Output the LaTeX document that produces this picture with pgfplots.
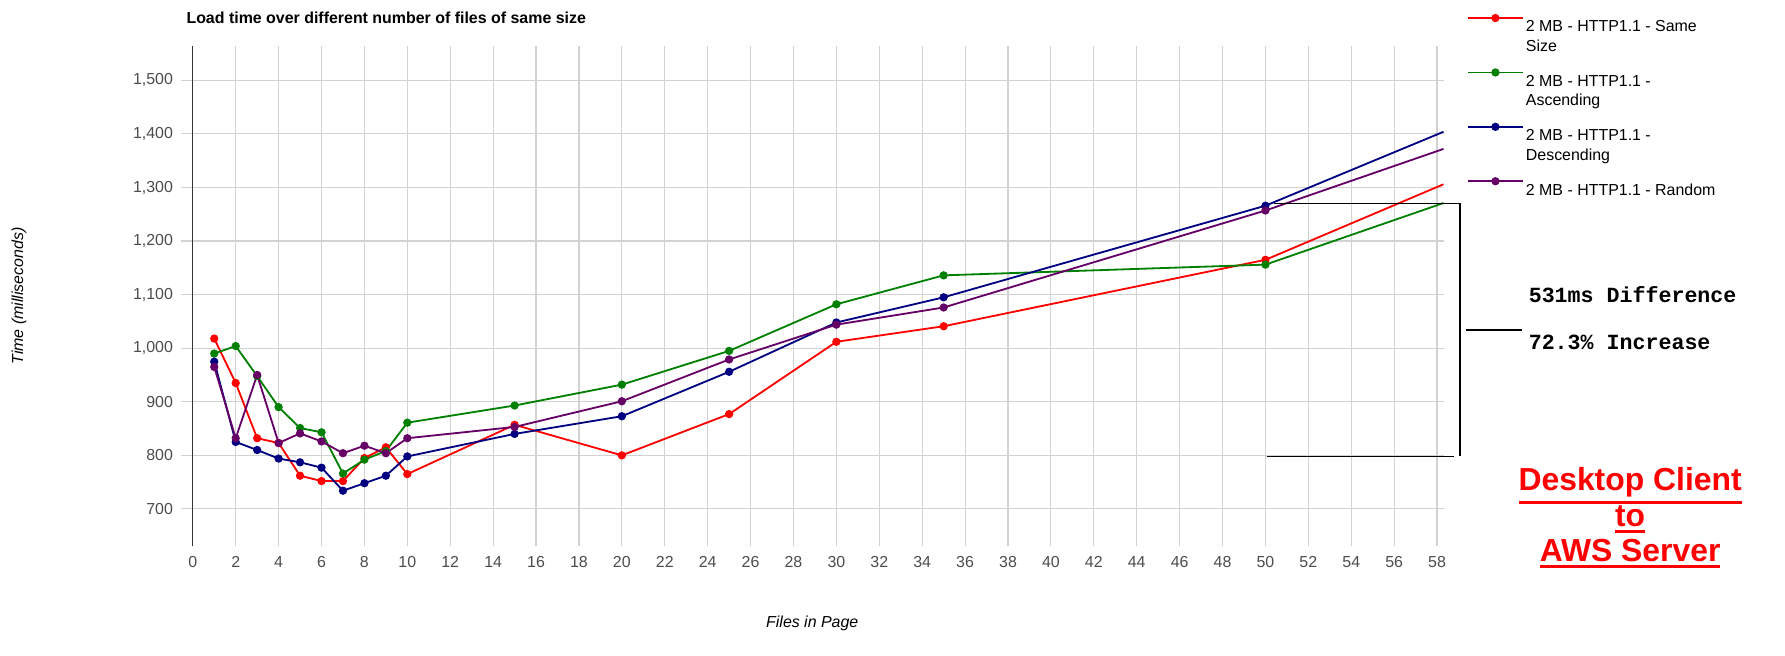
\documentclass[border=0pt]{standalone}
\usepackage{pgfplots}
\pgfplotsset{compat=1.18}
\usepackage{fontspec}
\setmainfont{Liberation Sans}
\newfontfamily\monofont{Liberation Mono}
\newcommand{\uline}[1]{\tikz[baseline=(t.base)]{\node[inner sep=0pt,outer sep=0pt](t){#1};\draw[red,line width=1.4pt]([yshift=-2.2pt]t.south west)--([yshift=-2.2pt]t.south east);}}
\begin{document}
\begin{tikzpicture}
\useasboundingbox (-79.5pt,-48pt) rectangle (704.5pt,240pt);
\begin{axis}[
  at={(0,0)}, anchor=south west,
  scale only axis, width=554.5pt, height=220pt,
  xmin=-0.55, xmax=58.3, ymin=630, ymax=1565,
  xtick={0,2,...,58}, ytick={700,800,...,1500},
  /pgf/number format/1000 sep={,},
  /pgf/number format/assume math mode=true,
  tick label style={font=\fontsize{7}{8}\selectfont, text=black!70},
  grid=major, grid style={gray!35, line width=0.5pt},
  axis line style={draw=none}, major tick length=0pt,
  xticklabel style={yshift=-1pt},
  xlabel={\itshape Files in Page}, xlabel style={font=\fontsize{7}{8}\selectfont, yshift=-14pt},
  ylabel={\itshape Time (milliseconds)}, ylabel style={font=\fontsize{7}{8}\selectfont, yshift=40pt},
  clip=false,
  every axis plot/.append style={line width=0.8pt, mark=*, mark size=1.4pt, mark indices={1,...,16}},
  legend image code/.code={\draw[#1, mark indices={}] (0pt,0pt) -- (24pt,0pt); \fill[#1] (12pt,0pt) circle (1.4pt);},
  legend style={at={(1.013,1.073)}, anchor=north west, draw=none, fill=none,
     font=\fontsize{7}{8.5}\selectfont, nodes={align=left, anchor=north west, inner sep=1pt}, row sep=5pt},
  legend cell align=left,
]
\draw[black!80, line width=0.6pt] (axis cs:0,630) -- (axis cs:0,1565);
\addplot[red] coordinates {(1,1018)(2,935)(3,832)(4,823)(5,762)(6,752)(7,752)(8,795)(9,815)(10,765)(15,857)(20,800)(25,877)(30,1012)(35,1041)(50,1165)(58.3,1306)};
\addlegendentry{2 MB - HTTP1.1 - Same\\Size}
\addplot[green!50!black] coordinates {(1,990)(2,1004)(3,948)(4,890)(5,851)(6,843)(7,766)(8,792)(9,808)(10,861)(15,893)(20,932)(25,995)(30,1082)(35,1136)(50,1156)(58.3,1271)};
\addlegendentry{2 MB - HTTP1.1 -\\Ascending}
\addplot[blue!50!black] coordinates {(1,975)(2,825)(3,810)(4,794)(5,787)(6,777)(7,734)(8,748)(9,762)(10,798)(15,840)(20,873)(25,956)(30,1048)(35,1095)(50,1266)(58.3,1404)};
\addlegendentry{2 MB - HTTP1.1 -\\Descending}
\addplot[violet!80!black] coordinates {(1,965)(2,832)(3,950)(4,823)(5,841)(6,826)(7,804)(8,818)(9,804)(10,832)(15,853)(20,901)(25,979)(30,1044)(35,1076)(50,1257)(58.3,1372)};
\addlegendentry{2 MB - HTTP1.1 - Random}
\draw[black, line width=0.8pt] (axis cs:50.4,1270) -- (axis cs:59.07,1270) -- (axis cs:59.07,798);
\draw[black, line width=0.8pt] (axis cs:50.05,798) -- (axis cs:58.8,798);
\draw[black, line width=0.8pt] (axis cs:59.33,1034) -- (axis cs:61.98,1034);
\node[anchor=west, font=\monofont\bfseries\fontsize{9.5}{11}\selectfont] at (axis cs:61.9,1100) {531ms Difference};
\node[anchor=west, font=\monofont\bfseries\fontsize{9.5}{11}\selectfont] at (axis cs:61.9,1011) {72.3\% Increase};
\node[red, font=\bfseries\fontsize{14}{15.5}\selectfont, align=center] at (axis cs:67.0,683)
  {\uline{Desktop Client}\\\uline{to}\\\uline{AWS Server}};
\node[anchor=west, font=\bfseries\fontsize{7}{8}\selectfont] at (rel axis cs:-0.002,1.055) {Load time over different number of files of same size};
\end{axis}
\end{tikzpicture}
\end{document}
